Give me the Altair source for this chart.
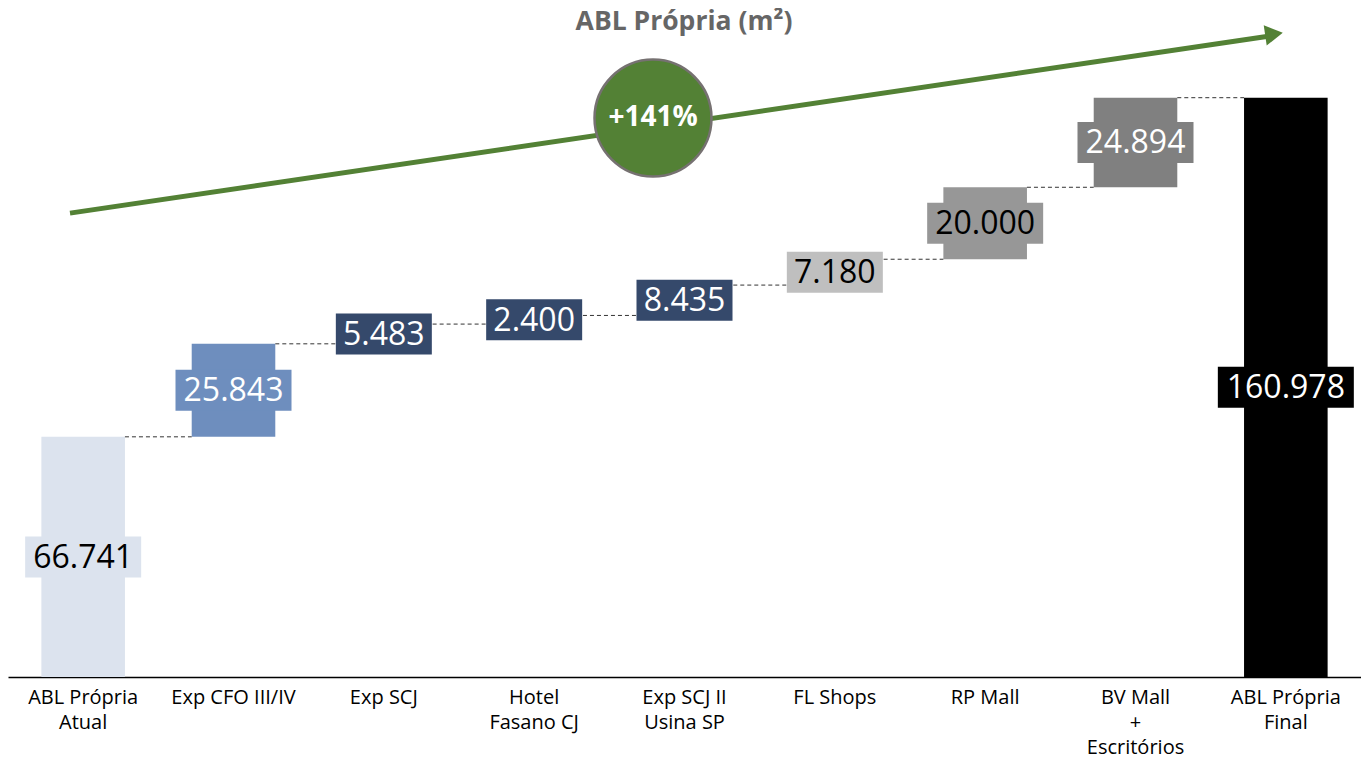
import altair as alt
import pandas as pd

categories = ["ABL Própria|Atual", "Exp CFO III/IV", "Exp SCJ", "Hotel|Fasano CJ",
              "Exp SCJ II|Usina SP", "FL Shops", "RP Mall", "BV Mall|+|Escritórios",
              "ABL Própria|Final"]
values = [66741, 25843, 5483, 2400, 8435, 7180, 20000, 24894, 160978]
labels = ["66.741", "25.843", "5.483", "2.400", "8.435", "7.180", "20.000", "24.894", "160.978"]
is_total = [True, False, False, False, False, False, False, False, True]
bar_colors = ["#dce3ee", "#6e8ebe", "#35496b", "#35496b", "#35496b", "#bfbfbf",
              "#979797", "#808080", "#000000"]
text_colors = ["#000000", "#ffffff", "#ffffff", "#ffffff", "#ffffff", "#000000",
               "#000000", "#ffffff", "#ffffff"]
growth_label = "+141%"
title_text = "ABL Própria (m²)"

FONT = "Open Sans"
HEIGHT = 668
Y_MAX = 185620
PX_PER_UNIT = HEIGHT / Y_MAX
BOX_HALF = 20.5 / PX_PER_UNIT

rows = []
running = 0
for cat, v, lab, tot, bc, tc in zip(categories, values, labels, is_total, bar_colors, text_colors):
    if tot:
        start, end = 0, v
        running = v
    else:
        start, end = running, running + v
        running = end
    mid = (start + end) / 2
    rows.append(dict(cat=cat, start=start, end=end, mid=mid, label=lab,
                     lo=mid - BOX_HALF, hi=mid + BOX_HALF,
                     boxw=20 * len(lab) - 4, bcolor=bc, tcolor=tc))
df = pd.DataFrame(rows)

conn = pd.DataFrame({
    "cat": categories[:-1],
    "nxt": categories[1:],
    "level": df["end"].iloc[:-1].values,
})

xenc = alt.X("cat:N", sort=categories, title=None,
             scale=alt.Scale(paddingInner=0.444, paddingOuter=0.222),
             axis=alt.Axis(labelExpr="split(datum.label, '|')", labelAngle=0,
                           ticks=False, domainColor="#000000", domainWidth=1.5,
                           labelFont=FONT, labelFontSize=20, labelColor="#000000",
                           labelLineHeight=25, labelPadding=10))
yscale = alt.Scale(domain=[0, Y_MAX], nice=False, zero=True)
yenc = alt.Y("start:Q", scale=yscale, axis=None, title=None)

base = alt.Chart(df)

bars = base.mark_bar().encode(
    x=xenc, y=yenc, y2="end:Q",
    color=alt.Color("bcolor:N", scale=None),
)

boxes = base.mark_bar().encode(
    x=alt.X("cat:N", sort=categories),
    y=alt.Y("lo:Q", scale=yscale), y2="hi:Q",
    size=alt.Size("boxw:Q", scale=None),
    color=alt.Color("bcolor:N", scale=None),
)

texts = base.mark_text(font=FONT, fontSize=32, baseline="middle", dy=1).encode(
    x=alt.X("cat:N", sort=categories),
    y=alt.Y("mid:Q", scale=yscale),
    text="label:N",
    color=alt.Color("tcolor:N", scale=None),
)

connectors = alt.Chart(conn).mark_rule(color="#333333", strokeWidth=1, strokeDash=[4, 3]).encode(
    x=alt.X("cat:N", sort=categories, bandPosition=1),
    x2=alt.X2("nxt:N", bandPosition=0),
    y=alt.Y("level:Q", scale=yscale),
)

one = pd.DataFrame({"a": [0]})
GREEN = "#538135"

arrow_line = alt.Chart(one).mark_rule(color=GREEN, strokeWidth=5).encode(
    x=alt.value(62), x2=alt.value(1262),
    y=alt.datum(128900), y2=alt.datum(178100),
)
arrow_head = alt.Chart(one).mark_point(shape="triangle-right", filled=True, color=GREEN,
                                       opacity=1, size=420, angle=351.6).encode(
    x=alt.value(1266), y=alt.datum(178650),
)
circle = alt.Chart(one).mark_point(shape="circle", filled=True, fill=GREEN, opacity=1,
                                   stroke="#767171", strokeWidth=2.5, size=13689).encode(
    x=alt.value(645), y=alt.datum(155300),
)
circle_text = alt.Chart(one).mark_text(text=growth_label, font=FONT, fontSize=28,
                                       fontWeight="bold", color="#ffffff",
                                       baseline="middle").encode(
    x=alt.value(645), y=alt.datum(155300),
)
title = alt.Chart(one).mark_text(text=title_text, font=FONT, fontSize=26.5,
                                 fontWeight="bold", color="#666666",
                                 baseline="middle").encode(
    x=alt.value(676), y=alt.datum(182010),
)

chart = alt.layer(
    bars, connectors, boxes, texts, arrow_line, arrow_head, circle, circle_text, title
).properties(
    width=1353, height=HEIGHT, padding=0
).configure(background="#ffffff").configure_view(stroke=None)

chart.save("out.html", embed_options={"renderer": "svg", "actions": False})
